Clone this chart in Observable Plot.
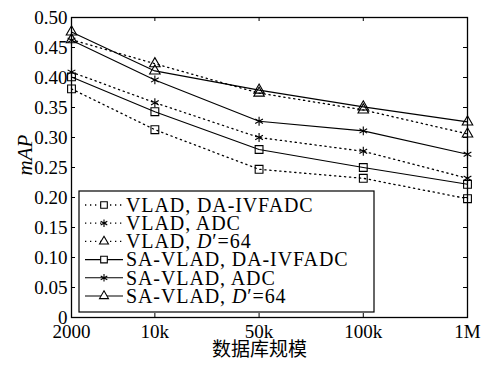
<!DOCTYPE html>
<html>
<head>
<meta charset="utf-8">
<script src="https://cdn.jsdelivr.net/npm/d3@7"></script>
<script src="https://cdn.jsdelivr.net/npm/@observablehq/plot@0.6"></script>
<style>
  html, body { margin: 0; padding: 0; background: #fff; }
  #chart { width: 483px; height: 365px; }
  #chart svg, #chart svg text { font-family: "Liberation Serif", "DejaVu Serif", serif; }
  #chart svg text.cjk { font-family: "Noto Sans CJK SC", sans-serif; }
</style>
</head>
<body>
<div id="chart"></div>
<script>
// ---- data ----
const xLabels = ["2000", "10k", "50k", "100k", "1M"];
const xPos = [0.2, 1, 2, 3, 4];
const yTicks = [0, 0.05, 0.10, 0.15, 0.20, 0.25, 0.30, 0.35, 0.40, 0.45, 0.50];

const seriesNames = [
  "VLAD, DA-IVFADC",
  "VLAD, ADC",
  "VLAD, D′=64",
  "SA-VLAD, DA-IVFADC",
  "SA-VLAD, ADC",
  "SA-VLAD, D′=64"
];
const vladDA  = [0.381, 0.313, 0.247, 0.232, 0.198];
const vladADC = [0.409, 0.358, 0.300, 0.277, 0.232];
const vladD64 = [0.463, 0.423, 0.374, 0.346, 0.306];
const saDA    = [0.401, 0.343, 0.280, 0.250, 0.222];
const saADC   = [0.462, 0.396, 0.327, 0.311, 0.272];
const saD64   = [0.476, 0.411, 0.379, 0.351, 0.326];
const seriesValues = [vladDA, vladADC, vladD64, saDA, saADC, saD64];
const seriesSymbols = ["square", "asterisk", "triangle", "square", "asterisk", "triangle"];
const seriesDotted = [true, true, true, false, false, false];
const xTitle = "数据库规模";
const yTitle = "mAP";

// ---- build table ----
const rows = [];
seriesNames.forEach((name, s) => {
  seriesValues[s].forEach((v, i) => rows.push({series: name, s, x: xPos[i], y: v}));
});

const W = 483, H = 365;
const mL = 71, mR = 16, mT = 17, mB = 48;
const plotW = W - mL - mR, plotH = H - mT - mB;
const symR = {square: 4.4, asterisk: 4.2, triangle: 3.9};

const marks = [
  Plot.frame({stroke: "black", strokeWidth: 1.3}),
  // inward ticks
  Plot.tickY(yTicks, {y: d => d, stroke: "black", strokeWidth: 1, insetRight: plotW - 4}),
  Plot.tickY(yTicks, {y: d => d, stroke: "black", strokeWidth: 1, insetLeft: plotW - 4}),
  Plot.tickX(xPos, {x: d => d, stroke: "black", strokeWidth: 1, insetTop: plotH - 4}),
  Plot.tickX(xPos, {x: d => d, stroke: "black", strokeWidth: 1, insetBottom: plotH - 4}),
  Plot.axisY({ticks: yTicks, tickSize: 0, tickPadding: 4, label: null,
    tickFormat: d => d === 0 ? "0" : d.toFixed(2), fontSize: 19}),
  Plot.axisX({ticks: xPos, tickSize: 0, tickPadding: 7, label: null,
    tickFormat: d => xLabels[xPos.indexOf(d)], fontSize: 19}),
  Plot.text([xTitle], {text: d => d, frameAnchor: "bottom", dy: 38, dx: -10,
    fontSize: 19, fill: "black", className: "cjk"}),
  Plot.text([yTitle], {text: d => d, frameAnchor: "left", dx: -46, dy: 8, rotate: -90,
    fontStyle: "italic", fontSize: 21, fill: "black"})
];
seriesNames.forEach((name, s) => {
  const d = rows.filter(r => r.s === s);
  marks.push(Plot.line(d, {x: "x", y: "y", stroke: "black", strokeWidth: seriesDotted[s] ? 1.3 : 1.1,
    strokeDasharray: seriesDotted[s] ? "1.3,3.7" : null}));
  marks.push(Plot.dot(d, {x: "x", y: "y", symbol: () => seriesSymbols[s], r: symR[seriesSymbols[s]],
    stroke: "black", strokeWidth: 1.1, fill: "none"}));
});

const svg = Plot.plot({
  width: W, height: H,
  marginLeft: mL, marginRight: mR, marginTop: mT, marginBottom: mB,
  x: {domain: [0.2, 4]},
  y: {domain: [0, 0.5]},
  symbol: {domain: ["square", "asterisk", "triangle"], range: ["square", "asterisk", "triangle"]},
  style: {fontSize: "19px", color: "black", background: "white", overflow: "visible"},
  marks
});

d3.select(svg).selectAll("g.cjk text, text.cjk").attr("class", "cjk")
  .style("font-family", "'Noto Sans CJK SC', sans-serif");

// ---- legend (inside plot area) ----
const g = d3.select(svg).append("g").attr("class", "legend").attr("text-anchor", "start");
const lx = 79, ly = 191, lw = 295, lh = 121;
g.append("rect").attr("x", lx).attr("y", ly).attr("width", lw).attr("height", lh)
  .attr("fill", "white").attr("stroke", "black").attr("stroke-width", 1.2);
const symMap = {square: d3.symbolSquare, asterisk: d3.symbolAsterisk, triangle: d3.symbolTriangle};
seriesNames.forEach((name, s) => {
  const y = 205 + s * 18.2;
  g.append("line").attr("x1", 85).attr("x2", 123).attr("y1", y).attr("y2", y)
    .attr("stroke", "black").attr("stroke-width", seriesDotted[s] ? 1.3 : 1.1)
    .attr("stroke-dasharray", seriesDotted[s] ? "1.3,3.7" : null);
  const sym = seriesSymbols[s];
  const r = symR[sym] * 0.85;
  g.append("path").attr("transform", `translate(104,${y})`)
    .attr("d", d3.symbol(symMap[sym], Math.PI * r * r)())
    .attr("fill", sym === "asterisk" ? "none" : "white").attr("stroke", "black").attr("stroke-width", 1.1);
  const t = g.append("text").attr("x", 126).attr("y", y).attr("dy", "0.34em")
    .attr("text-anchor", "start").attr("font-size", 20).attr("letter-spacing", 0.9).attr("fill", "black");
  const idx = name.indexOf("D′");
  if (idx >= 0) {
    t.append("tspan").text(name.slice(0, idx));
    t.append("tspan").attr("font-style", "italic").text("D");
    t.append("tspan").text(name.slice(idx + 1));
  } else {
    t.text(name);
  }
});

document.getElementById("chart").appendChild(svg);
</script>
</body>
</html>
